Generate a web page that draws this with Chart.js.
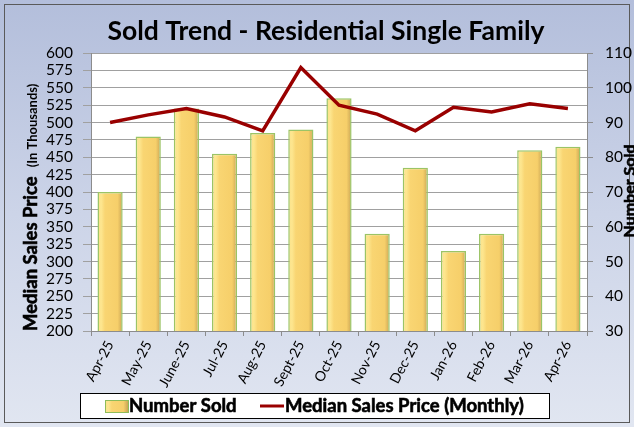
<!DOCTYPE html>
<html>
<head>
<meta charset="utf-8">
<script src="https://cdn.jsdelivr.net/npm/chart.js@4.4.1/dist/chart.umd.min.js"></script>
<style>
html,body{margin:0;padding:0;background:#fff;}
#wrap{width:634px;height:427px;position:relative;}
</style>
</head>
<body>
<div id="wrap"><canvas id="c" width="634" height="427"></canvas></div>
<script>
const categories = ["Apr-25","May-25","June-25","Jul-25","Aug-25","Sept-25","Oct-25","Nov-25","Dec-25","Jan-26","Feb-26","Mar-26","Apr-26"];
const numberSold = [70, 86, 94, 81, 87, 88, 97, 58, 77, 53, 58, 82, 83];
const medianPrice = [500, 511, 520, 508, 488, 579, 525, 512, 488, 522, 515, 527, 520];
const priceTicks = {min: 200, max: 600, step: 25};
const soldTicks = {min: 30, max: 110, step: 10};
const titleText = "Sold Trend - Residential Single Family";
const leftTitle = "Median Sales Price";
const leftSubTitle = "(In Thousands)";
const rightTitle = "Number Sold";
const legendLabels = ["Number Sold", "Median Sales Price (Monthly)"];

const FONT = "Lato, 'Open Sans', sans-serif";
const BAR_PCT = 0.66;

function barGradient(ctx, x0, x1) {
  const g = ctx.createLinearGradient(x0, 0, x1, 0);
  g.addColorStop(0, '#fbe28a');
  g.addColorStop(0.15, '#fde68f');
  g.addColorStop(0.3, '#f9d572');
  g.addColorStop(0.8, '#f6cf6a');
  g.addColorStop(1, '#c9a555');
  return g;
}

function heavyText(ctx, t, x, y) {
  ctx.fillText(t, x, y);
  ctx.lineWidth = 0.6;
  ctx.strokeStyle = ctx.fillStyle;
  ctx.strokeText(t, x, y);
}

const decor = {
  id: 'decor',
  beforeDraw(chart) {
    const ctx = chart.ctx, W = chart.width, H = chart.height;
    const a = chart.chartArea;
    ctx.save();
    const bg = ctx.createLinearGradient(0, 0, 0, H);
    bg.addColorStop(0, '#b3bedb');
    bg.addColorStop(0.5, '#ccd4e8');
    bg.addColorStop(1, '#e1e6f1');
    ctx.fillStyle = bg;
    ctx.fillRect(0, 0, W, H);
    ctx.strokeStyle = '#5a5a5a';
    ctx.lineWidth = 1;
    ctx.strokeRect(4.5, 4.5, W - 9, H - 9);
    ctx.fillStyle = '#ffffff';
    ctx.fillRect(a.left, a.top, a.right - a.left, a.bottom - a.top);
    ctx.restore();
  },
  afterDraw(chart) {
    const ctx = chart.ctx;
    ctx.save();
    // title
    ctx.fillStyle = '#000';
    ctx.font = "bold 26.5px " + FONT;
    ctx.textAlign = 'center';
    ctx.textBaseline = 'middle';
    ctx.fillText(titleText, 326, 31);
    // left axis title
    ctx.save();
    ctx.translate(37, 0);
    ctx.rotate(-Math.PI / 2);
    ctx.textAlign = 'left';
    ctx.textBaseline = 'alphabetic';
    ctx.font = "bold 18.5px " + FONT;
    const yStart = -331;
    heavyText(ctx, leftTitle, yStart, 0);
    const w1 = ctx.measureText(leftTitle).width;
    ctx.font = "bold 13px " + FONT;
    ctx.fillText(leftSubTitle, yStart + w1 + 9, 0);
    ctx.restore();
    // right axis title
    ctx.save();
    ctx.translate(635, 191);
    ctx.rotate(-Math.PI / 2);
    ctx.textAlign = 'center';
    ctx.textBaseline = 'alphabetic';
    ctx.font = "bold 16px " + FONT;
    heavyText(ctx, rightTitle, 0, 0);
    ctx.restore();
    // legend
    const lx = 80, ly = 393, lw = 469, lh = 25;
    ctx.fillStyle = '#fff';
    ctx.fillRect(lx, ly, lw, lh);
    ctx.strokeStyle = '#000';
    ctx.lineWidth = 1;
    ctx.strokeRect(lx + 0.5, ly + 0.5, lw, lh);
    ctx.fillStyle = barGradient(ctx, 105, 128);
    ctx.fillRect(105, 400, 23, 12);
    ctx.strokeStyle = '#8fbc5a';
    ctx.strokeRect(105.5, 400.5, 23, 12);
    ctx.fillStyle = '#000';
    ctx.font = "bold 18.5px " + FONT;
    ctx.textAlign = 'left';
    ctx.textBaseline = 'middle';
    heavyText(ctx, legendLabels[0], 129, 406);
    ctx.strokeStyle = '#990000';
    ctx.lineWidth = 3;
    ctx.beginPath();
    ctx.moveTo(260, 406);
    ctx.lineTo(284, 406);
    ctx.stroke();
    ctx.fillStyle = '#000';
    heavyText(ctx, legendLabels[1], 285, 406);
    ctx.restore();
  }
};

const chart = new Chart(document.getElementById('c'), {
  type: 'bar',
  data: {
    labels: categories,
    datasets: [
      {
        type: 'line',
        label: legendLabels[1],
        data: medianPrice,
        yAxisID: 'y',
        borderColor: '#990000',
        backgroundColor: '#990000',
        borderWidth: 3.5,
        pointRadius: 0,
        tension: 0,
        order: 0
      },
      {
        type: 'bar',
        label: legendLabels[0],
        data: numberSold,
        yAxisID: 'y1',
        backgroundColor: (c) => {
          const chart = c.chart;
          if (!chart.chartArea || c.dataIndex === undefined) return '#f8d46c';
          const xs = chart.scales.x;
          const cx = xs.getPixelForValue(c.dataIndex);
          const bw = (xs.width / categories.length) * BAR_PCT;
          return barGradient(chart.ctx, cx - bw / 2, cx + bw / 2);
        },
        borderColor: '#9bc466',
        borderWidth: 1.5,
        borderSkipped: false,
        barPercentage: BAR_PCT,
        categoryPercentage: 1,
        order: 1
      }
    ]
  },
  options: {
    responsive: false,
    animation: false,
    devicePixelRatio: 1,
    layout: {padding: {top: 53, left: 0, right: 0, bottom: 0}},
    plugins: {legend: {display: false}, title: {display: false}, tooltip: {enabled: false}},
    scales: {
      x: {
        offset: true,
        grid: {display: true, drawOnChartArea: false, offset: true, tickLength: 5, color: '#8c8c8c'},
        border: {color: '#8c8c8c'},
        ticks: {color: '#000', font: {family: FONT, size: 14}, minRotation: 62, maxRotation: 62, padding: 2, autoSkip: false},
        afterFit(s) { s.height = 96; }
      },
      y: {
        position: 'left',
        min: priceTicks.min, max: priceTicks.max,
        ticks: {stepSize: priceTicks.step, color: '#000', font: {family: FONT, size: 15.5}, padding: 10, autoSkip: false},
        grid: {color: '#a0a0a0', tickLength: 8, lineWidth: 1},
        border: {color: '#8c8c8c'},
        afterFit(s) { s.width = 91; }
      },
      y1: {
        position: 'right',
        min: soldTicks.min, max: soldTicks.max,
        ticks: {stepSize: soldTicks.step, color: '#000', font: {family: FONT, size: 15.5}, padding: 12, autoSkip: false},
        grid: {drawOnChartArea: false, color: '#8c8c8c', tickLength: 6},
        border: {color: '#8c8c8c'},
        afterFit(s) { s.width = 47; }
      }
    }
  },
  plugins: [decor]
});
</script>
</body>
</html>
